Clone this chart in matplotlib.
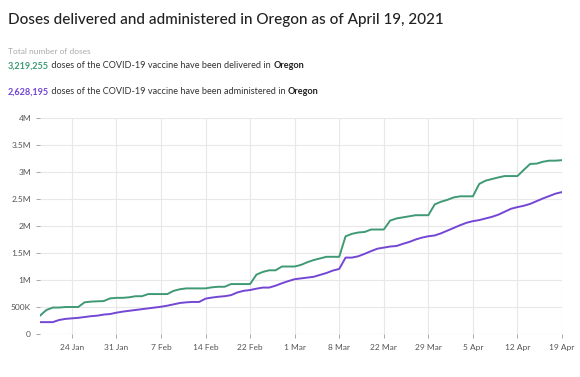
import numpy as np
import matplotlib.pyplot as plt

# daily totals, millions of doses (day 0 = first day shown)
delivered = [0.34, 0.445, 0.49, 0.49, 0.50, 0.50, 0.50, 0.587, 0.60, 0.606,
             0.61, 0.66, 0.67, 0.67, 0.68, 0.70, 0.70, 0.74, 0.74, 0.74,
             0.74, 0.80, 0.83, 0.845, 0.845, 0.845, 0.845, 0.865, 0.875, 0.875,
             0.925, 0.925, 0.925, 0.925, 1.10, 1.15, 1.18, 1.18, 1.25, 1.25,
             1.25, 1.28, 1.33, 1.37, 1.40, 1.43, 1.43, 1.43, 1.81, 1.855,
             1.88, 1.89, 1.935, 1.935, 1.935, 2.10, 2.14, 2.16, 2.18, 2.20,
             2.20, 2.20, 2.40, 2.45, 2.485, 2.53, 2.55, 2.55, 2.55, 2.78,
             2.84, 2.87, 2.90, 2.925, 2.925, 2.925, 3.04, 3.15, 3.155, 3.19,
             3.21, 3.21, 3.219255]
administered = [0.22, 0.22, 0.22, 0.26, 0.28, 0.29, 0.30, 0.315, 0.33, 0.34,
                0.36, 0.37, 0.395, 0.415, 0.43, 0.445, 0.46, 0.475, 0.49, 0.505,
                0.525, 0.55, 0.575, 0.587, 0.594, 0.594, 0.655, 0.675, 0.69, 0.70,
                0.72, 0.77, 0.80, 0.815, 0.84, 0.86, 0.86, 0.895, 0.94, 0.98,
                1.015, 1.03, 1.045, 1.06, 1.095, 1.13, 1.175, 1.205, 1.415, 1.415,
                1.44, 1.485, 1.535, 1.58, 1.60, 1.62, 1.63, 1.67, 1.705, 1.75,
                1.785, 1.81, 1.825, 1.865, 1.915, 1.965, 2.015, 2.06, 2.09, 2.11,
                2.14, 2.17, 2.21, 2.265, 2.32, 2.35, 2.375, 2.41, 2.46, 2.51,
                2.555, 2.60, 2.628195]

tick_days = [5, 12, 19, 26, 33, 40, 47, 54, 61, 68, 75, 82]
tick_labels = ['24 Jan', '31 Jan', '7 Feb', '14 Feb', '22 Feb', '1 Mar',
               '8 Mar', '22 Mar', '29 Mar', '5 Apr', '12 Apr', '19 Apr']
y_ticks = [0, 0.5, 1, 1.5, 2, 2.5, 3, 3.5, 4]
y_labels = ['0', '500K', '1M', '1.5M', '2M', '2.5M', '3M', '3.5M', '4M']

GREEN = '#3f9a74'
PURPLE = '#7446d4'

plt.rcParams['font.family'] = ['Lato', 'DejaVu Sans']

fig = plt.figure(figsize=(5.8, 3.77), dpi=100)
ax = fig.add_axes([0.069, 0.114, 0.9, 0.573])

days = np.arange(len(delivered))
ax.plot(days, delivered, color=GREEN, lw=1.4, zorder=3)
ax.plot(days, administered, color=PURPLE, lw=1.4, zorder=3)

ax.set_xlim(0, 82)
ax.set_ylim(0, 4)
ax.set_xticks(tick_days)
ax.set_xticklabels(tick_labels)
ax.set_yticks(y_ticks)
ax.set_yticklabels(y_labels)
ax.grid(color='#e8e8e8', lw=0.8)
ax.set_axisbelow(True)
for s in ax.spines.values():
    s.set_visible(False)
ax.axhline(0, color='#dddddd', lw=0.8, zorder=1)
ax.tick_params(axis='both', labelsize=6, colors='#999999', labelcolor='#555555',
               length=3, width=0.6)
ax.tick_params(axis='x', pad=4)

# header text
fig.text(8 / 580, 1 - 20 / 377, 'Doses delivered and administered in Oregon as of April 19, 2021',
         fontsize=11, color='#222222', va='center', fontweight='medium')
fig.text(8 / 580, 1 - 51 / 377, 'Total number of doses', fontsize=6,
         color='#aaaaaa', va='center')


def summary(y, num, color, verb):
    t = fig.text(8 / 580, 1 - y / 377, num, fontsize=6.6, color=color,
                 fontweight='bold', va='center')
    t = ax.annotate(' doses of the COVID-19 vaccine have been %s in ' % verb,
                    xy=(1, 0), xycoords=t, va='bottom', fontsize=6.6, color='#333333',
                    annotation_clip=False)
    ax.annotate('Oregon', xy=(1, 0), xycoords=t, va='bottom', fontsize=6.6,
                color='#222222', fontweight='bold', annotation_clip=False)


summary(66, '3,219,255', GREEN, 'delivered')
summary(92, '2,628,195', PURPLE, 'administered')

fig.savefig('out.png', dpi=100)
